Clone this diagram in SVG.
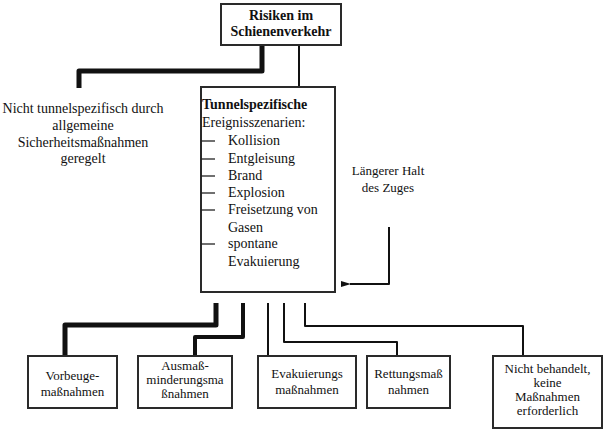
<svg xmlns="http://www.w3.org/2000/svg" width="606" height="433" viewBox="0 0 606 433">
<defs>
<style>
text{font-family:'Liberation Serif','DejaVu Serif',serif;fill:#111}
.t{font-size:13px;text-anchor:middle}
.tl{font-size:14px}
.m{text-anchor:middle}
.b{font-weight:bold}
.box{fill:#fff;stroke:#2a2a2a;stroke-width:2}
.c{fill:none;stroke:#111;stroke-linejoin:round}
.thick{stroke-width:5}
.med{stroke-width:4}
.thin{stroke-width:2}
.dash{stroke:#222;stroke-width:1.3}
</style>
<marker id="ah" markerWidth="10" markerHeight="8" refX="1" refY="4" orient="auto" markerUnits="userSpaceOnUse">
<path d="M10,1 L0,4 L10,7 Z" fill="#111"/>
</marker>
</defs>
<rect width="606" height="433" fill="#fff"/>
<g id="connectors">
<path class="c thick" d="M262,45 V71 H79 V88"/>
<path class="c thin" d="M299,46 V87"/>
<path class="c thick" d="M216,303 V325 H65 V356"/>
<path class="c med" d="M243,303 V337 H195 V356"/>
<path class="c thin" d="M268,303 V356"/>
<path class="c thin" d="M284,303 V342 H397 V356"/>
<path class="c thin" d="M305,303 V326 H523 V356"/>
<path class="c thin" d="M389,227 V284 H350" marker-end="url(#ah)"/>
</g>
<g id="risiken">
<rect class="box" x="221" y="4" width="120" height="41" stroke-width="2.5"/>
<text class="tl b m" x="281" y="20" font-family="Liberation Serif, serif">Risiken im</text>
<text class="tl b m" x="281" y="36" font-family="Liberation Serif, serif">Schienenverkehr</text>
</g>
<g id="nicht-tunnel">
<text class="tl m" x="83" y="113">Nicht tunnelspezifisch durch</text>
<text class="tl m" x="83" y="130">allgemeine</text>
<text class="tl m" x="83" y="147">Sicherheitsmaßnahmen</text>
<text class="tl m" x="83" y="163">geregelt</text>
</g>
<g id="tunnelspezifisch">
<rect class="box" x="201" y="87" width="134" height="205"/>
<text class="tl b" x="202" y="109">Tunnelspezifische</text>
<text class="tl" x="202" y="127" font-size="13.5">Ereignisszenarien:</text>
<g class="dash">
<line x1="201" y1="141" x2="215" y2="141"/>
<line x1="201" y1="159" x2="215" y2="159"/>
<line x1="201" y1="176" x2="215" y2="176"/>
<line x1="201" y1="193" x2="215" y2="193"/>
<line x1="201" y1="210" x2="215" y2="210"/>
<line x1="201" y1="244" x2="215" y2="244"/>
</g>
<text class="tl" x="228" y="145">Kollision</text>
<text class="tl" x="228" y="163">Entgleisung</text>
<text class="tl" x="228" y="180">Brand</text>
<text class="tl" x="228" y="197">Explosion</text>
<text class="tl" x="228" y="214">Freisetzung von</text>
<text class="tl" x="228" y="232">Gasen</text>
<text class="tl" x="228" y="248">spontane</text>
<text class="tl" x="228" y="266">Evakuierung</text>
</g>
<g id="halt">
<text class="t" x="388" y="175">Längerer Halt</text>
<text class="t" x="388" y="192">des Zuges</text>
</g>
<g id="vorbeuge">
<rect class="box" x="28" y="356" width="89" height="52"/>
<text class="t" x="72.5" y="380">Vorbeuge-</text>
<text class="t" x="72.5" y="396">maßnahmen</text>
</g>
<g id="ausmass">
<rect class="box" x="138" y="356" width="94" height="52"/>
<text class="t" x="185" y="370">Ausmaß-</text>
<text class="t" x="185" y="384">minderungsma</text>
<text class="t" x="185" y="398">ßnahmen</text>
</g>
<g id="evakuierung">
<rect class="box" x="258" y="356" width="98" height="52"/>
<text class="t" x="307" y="378">Evakuierungs</text>
<text class="t" x="307" y="394">maßnahmen</text>
</g>
<g id="rettung">
<rect class="box" x="367" y="356" width="83" height="52"/>
<text class="t" x="408.5" y="378">Rettungsmaß</text>
<text class="t" x="408.5" y="394">nahmen</text>
</g>
<g id="nicht-behandelt">
<rect class="box" x="493" y="356" width="109" height="72"/>
<text class="t" x="547.5" y="373">Nicht behandelt,</text>
<text class="t" x="547.5" y="387">keine</text>
<text class="t" x="547.5" y="401">Maßnahmen</text>
<text class="t" x="547.5" y="415">erforderlich</text>
</g>
</svg>
